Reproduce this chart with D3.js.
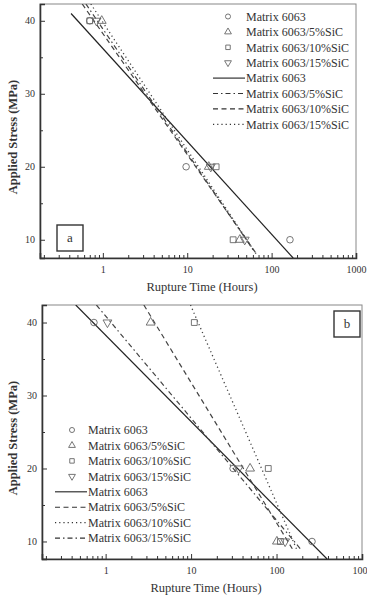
<!DOCTYPE html>
<html>
<head>
<meta charset="utf-8">
<script src="https://cdn.jsdelivr.net/npm/d3@7"></script>
<style>
  body { margin: 0; background: #fff; }
  svg text { font-family: "Liberation Serif", "DejaVu Serif", serif !important; fill: #333; }
</style>
</head>
<body>
<div class="chartContainer"></div>
<script>
// stress levels tested (MPa)
const stressLevels = [40, 20, 10];

// panel a: rupture times (hours) at 40, 20, 10 MPa
const timesA6063 = [0.7, 9.7, 165];
const timesA5 = [0.97, 18, 42];
const timesA10 = [0.7, 22, 35];
const timesA15 = [0.84, 19, 48];

// panel a: fitted lines, [time, stress] end points
const fitA6063 = [[0.42, 41], [180, 7.5]];
const fitA5 = [[0.63, 42.3], [63, 8.3]];
const fitA10 = [[0.57, 42.3], [64, 8.3]];
const fitA15 = [[0.72, 42.3], [66, 8.0]];

// panel b: rupture times (hours) at 40, 20, 10 MPa
const timesB6063 = [0.73, 31, 260];
const timesB5 = [3.36, 49, 101];
const timesB10 = [10.9, 80, 111];
const timesB15 = [1.05, 36, 126];

// panel b: fitted lines
const fitB6063 = [[0.447, 42.4], [390, 7.6]];
const fitB5 = [[2.8, 42.4], [153, 9]];
const fitB10 = [[9.84, 42.4], [171, 9]];
const fitB15 = [[0.78, 42.4], [190, 9]];

const seriesNames = [
  "Matrix 6063",
  "Matrix 6063/5%SiC",
  "Matrix 6063/10%SiC",
  "Matrix 6063/15%SiC"
];
const xTickValues = [1, 10, 100, 1000];
const yTickValues = [10, 20, 30, 40];

const w = 367;
const h = 599;
const serif = '"Liberation Serif", "DejaVu Serif", serif';

const svg = d3
  .select(".chartContainer")
  .append("svg")
  .attr("width", w)
  .attr("height", h);

const dashes = {
  solid: null,
  dashed: "5,3.5",
  dotted: "1.2,3",
  dashdot: "5,3,1.5,3"
};

const symbols = [d3.symbolCircle, d3.symbolTriangle, d3.symbolSquare, "down"];

function marker(g, type, size) {
  if (type === "down") {
    g.append("path")
      .attr("d", d3.symbol(d3.symbolTriangle).size(size)())
      .attr("transform", "rotate(180)");
  } else {
    g.append("path").attr("d", d3.symbol(type).size(size)());
  }
  g.selectAll("path")
    .attr("fill", "none")
    .attr("stroke", "#666")
    .attr("stroke-width", 0.9);
}

function drawPanel(p) {
  const x = d3.scaleLog().domain([0.18, 1000]).range([p.left, p.right]);
  const y = d3.scaleLinear().domain(p.yDomain).range([p.bottom, p.top]);

  const g = svg.append("g");

  g.append("defs")
    .append("clipPath")
    .attr("id", "clip" + p.id)
    .append("rect")
    .attr("x", p.left)
    .attr("y", p.top)
    .attr("width", p.right - p.left)
    .attr("height", p.bottom - p.top);

  // frame
  g.append("rect")
    .attr("x", p.left)
    .attr("y", p.top)
    .attr("width", p.right - p.left)
    .attr("height", p.bottom - p.top)
    .attr("fill", "none")
    .attr("stroke", "#888")
    .attr("stroke-width", 1);

  // x axis, ticks inside
  const minor = [];
  for (let e = -1; e < 3; e++) {
    for (let k = 2; k < 10; k++) minor.push(k * Math.pow(10, e));
  }
  g.append("g")
    .attr("transform", "translate(0," + p.bottom + ")")
    .call(d3.axisTop(x).tickValues(minor.filter((d) => d > 0.18)).tickSize(3).tickFormat(""))
    .call((a) => a.select(".domain").remove());
  const xAxis = g
    .append("g")
    .attr("transform", "translate(0," + p.bottom + ")")
    .call(d3.axisTop(x).tickValues(xTickValues).tickSize(5).tickFormat(d3.format("d")));
  xAxis.select(".domain").attr("stroke", "#333").attr("stroke-width", 1.6);
  xAxis
    .selectAll("text")
    .attr("y", 0)
    .attr("dy", "1.45em")
    .style("font-size", "10px");
  g.selectAll(".tick line").attr("stroke", "#333");

  // y axis
  g.append("g")
    .attr("transform", "translate(" + p.left + ",0)")
    .call(d3.axisRight(y).tickValues([15, 25, 35]).tickSize(3).tickFormat(""))
    .call((a) => a.select(".domain").remove())
    .selectAll("line")
    .attr("stroke", "#333");
  const yAxis = g
    .append("g")
    .attr("transform", "translate(" + p.left + ",0)")
    .call(d3.axisRight(y).tickValues(yTickValues).tickSize(5));
  yAxis.select(".domain").attr("stroke", "#333").attr("stroke-width", 1.6);
  yAxis.selectAll("line").attr("stroke", "#333");
  yAxis
    .selectAll("text")
    .attr("x", -5)
    .attr("text-anchor", "end")
    .style("font-size", "10px");

  g.append("text")
    .attr("x", (p.left + p.right) / 2 + 4)
    .attr("y", p.bottom + 33)
    .attr("text-anchor", "middle")
    .style("font-size", "12.5px")
    .text("Rupture Time (Hours)");

  g.append("text")
    .attr("transform", "translate(17," + ((p.top + p.bottom) / 2 + 6) + ") rotate(-90)")
    .attr("text-anchor", "middle")
    .style("font-size", "12.5px")
    .style("font-weight", "bold")
    .text("Applied Stress (MPa)");

  // fitted lines
  const line = d3
    .line()
    .x((d) => x(d[0]))
    .y((d) => y(d[1]));
  const fits = g.append("g").attr("clip-path", "url(#clip" + p.id + ")");
  p.fits.forEach((f) => {
    fits
      .append("path")
      .attr("d", line(f.data))
      .attr("fill", "none")
      .attr("stroke", f.style === "solid" ? "#222" : "#444")
      .attr("stroke-width", f.style === "dotted" ? 1.3 : 1.2)
      .attr("stroke-dasharray", dashes[f.style]);
  });

  // data points
  p.points.forEach((times, i) => {
    g.selectAll(null)
      .data(times)
      .enter()
      .append("g")
      .attr("transform", (d, j) => "translate(" + x(d) + "," + y(stressLevels[j]) + ")")
      .each(function () {
        marker(d3.select(this), symbols[i], 34);
      });
  });

  // panel label
  g.append("rect")
    .attr("x", p.label.x)
    .attr("y", p.label.y)
    .attr("width", 26)
    .attr("height", 26)
    .attr("fill", "none")
    .attr("stroke", "#333")
    .attr("stroke-width", 1.4);
  g.append("text")
    .attr("x", p.label.x + 13)
    .attr("y", p.label.y + 17)
    .attr("text-anchor", "middle")
    .style("font-size", "13px")
    .text(p.label.text);

  // legend
  const lg = g.append("g");
  seriesNames.forEach((name, i) => {
    const row = lg
      .append("g")
      .attr("transform", "translate(" + p.legend.x + "," + (p.legend.y + i * p.legend.step) + ")");
    marker(row.append("g").attr("transform", "translate(" + p.legend.sym + ",0)"), symbols[i], 20);
    row.append("text")
      .attr("x", p.legend.text)
      .attr("dy", "0.35em")
      .style("font-size", "12px")
      .text(name);
  });
  p.fits.forEach((f, i) => {
    const row = lg
      .append("g")
      .attr("transform", "translate(" + p.legend.x + "," + (p.legend.y + (i + 4) * p.legend.step) + ")");
    row.append("line")
      .attr("x1", 0)
      .attr("x2", p.legend.text - 1)
      .attr("stroke", "#333")
      .attr("stroke-width", 1.2)
      .attr("stroke-dasharray", dashes[f.style]);
    row.append("text")
      .attr("x", p.legend.text)
      .attr("dy", "0.35em")
      .style("font-size", "12px")
      .text(seriesNames[f.name]);
  });

  g.selectAll("text").attr("font-family", serif).style("font-family", serif);
}

drawPanel({
  id: "a",
  left: 40,
  right: 356,
  top: 4,
  bottom: 258,
  yDomain: [7.5, 42.3],
  points: [timesA6063, timesA5, timesA10, timesA15],
  fits: [
    { data: fitA6063, style: "solid", name: 0 },
    { data: fitA5, style: "dashdot", name: 1 },
    { data: fitA10, style: "dashed", name: 2 },
    { data: fitA15, style: "dotted", name: 3 }
  ],
  label: { x: 57, y: 225, text: "a" },
  legend: { x: 213, y: 16.5, step: 15.4, sym: 15, text: 33 }
});

drawPanel({
  id: "b",
  left: 42,
  right: 362,
  top: 305,
  bottom: 559,
  yDomain: [7.6, 42.4],
  points: [timesB6063, timesB5, timesB10, timesB15],
  fits: [
    { data: fitB6063, style: "solid", name: 0 },
    { data: fitB5, style: "dashed", name: 1 },
    { data: fitB10, style: "dotted", name: 2 },
    { data: fitB15, style: "dashdot", name: 3 }
  ],
  label: { x: 334, y: 311, text: "b" },
  legend: { x: 55, y: 430, step: 15.45, sym: 17, text: 33 }
});
</script>
</body>
</html>
